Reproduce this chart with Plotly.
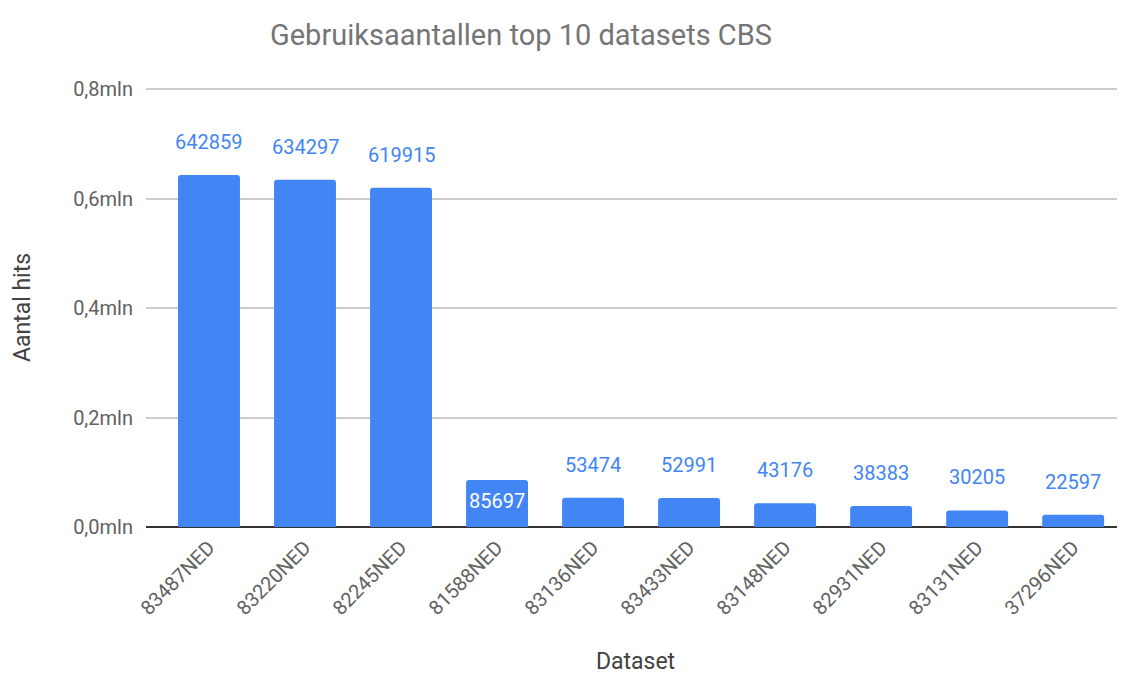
import plotly.graph_objects as go

categories = ["83487NED", "83220NED", "82245NED", "81588NED", "83136NED",
              "83433NED", "83148NED", "82931NED", "83131NED", "37296NED"]
hits = [642859, 634297, 619915, 85697, 53474, 52991, 43176, 38383, 30205, 22597]
inside_label = [False, False, False, True, False, False, False, False, False, False]
y_tickvals = [0, 200000, 400000, 600000, 800000]
y_ticktext = ["0,0mln", "0,2mln", "0,4mln", "0,6mln", "0,8mln"]

BLUE = "#4285F4"
FONT = "Roboto"
W, H = 1117, 667

fig = go.Figure()
fig.add_trace(go.Bar(
    x=list(range(len(categories))),
    y=hits,
    width=0.645,
    marker=dict(color=BLUE, line=dict(width=0)),
    hoverinfo="skip",
))

for i, (v, inside) in enumerate(zip(hits, inside_label)):
    if inside:
        fig.add_annotation(x=i, y=v, text=str(v), showarrow=False,
                           yanchor="top", yshift=-7,
                           font=dict(family=FONT, size=20, color="white"))
    else:
        fig.add_annotation(x=i, y=v, text=str(v), showarrow=False,
                           yanchor="bottom", yshift=19,
                           font=dict(family=FONT, size=20, color=BLUE))

fig.update_layout(
    width=W, height=H,
    paper_bgcolor="white", plot_bgcolor="white",
    margin=dict(l=138, r=0, t=80, b=148),
    barcornerradius=3,
    showlegend=False,
    title=dict(text="Gebruiksaantallen top 10 datasets CBS",
               x=513 / W, xanchor="center", xref="container",
               y=1 - 27 / H, yanchor="middle", yref="container",
               font=dict(family=FONT, size=29, color="#757575")),
    font=dict(family=FONT),
)

fig.update_xaxes(
    range=[-0.656, 9.54],
    tickvals=list(range(len(categories))),
    ticktext=categories,
    tickangle=-45,
    tickfont=dict(family=FONT, size=20, color="#616161"),
    showgrid=False, zeroline=False, showline=False, ticks="",
    ticklabelstandoff=4,
    title=dict(text="Dataset", font=dict(family=FONT, size=23, color="#424242"), standoff=36),
)
fig.update_yaxes(
    range=[0, 802000],
    tickvals=y_tickvals, ticktext=y_ticktext,
    tickfont=dict(family=FONT, size=20, color="#616161"),
    showgrid=True, gridcolor="#cccccc", gridwidth=1.5,
    zeroline=True, zerolinecolor="#333333", zerolinewidth=1.5,
    showline=False, ticks="", ticklabelstandoff=12,
    title=dict(text="Aantal hits", font=dict(family=FONT, size=23, color="#424242"), standoff=36),
)

fig.write_html("out.html")
